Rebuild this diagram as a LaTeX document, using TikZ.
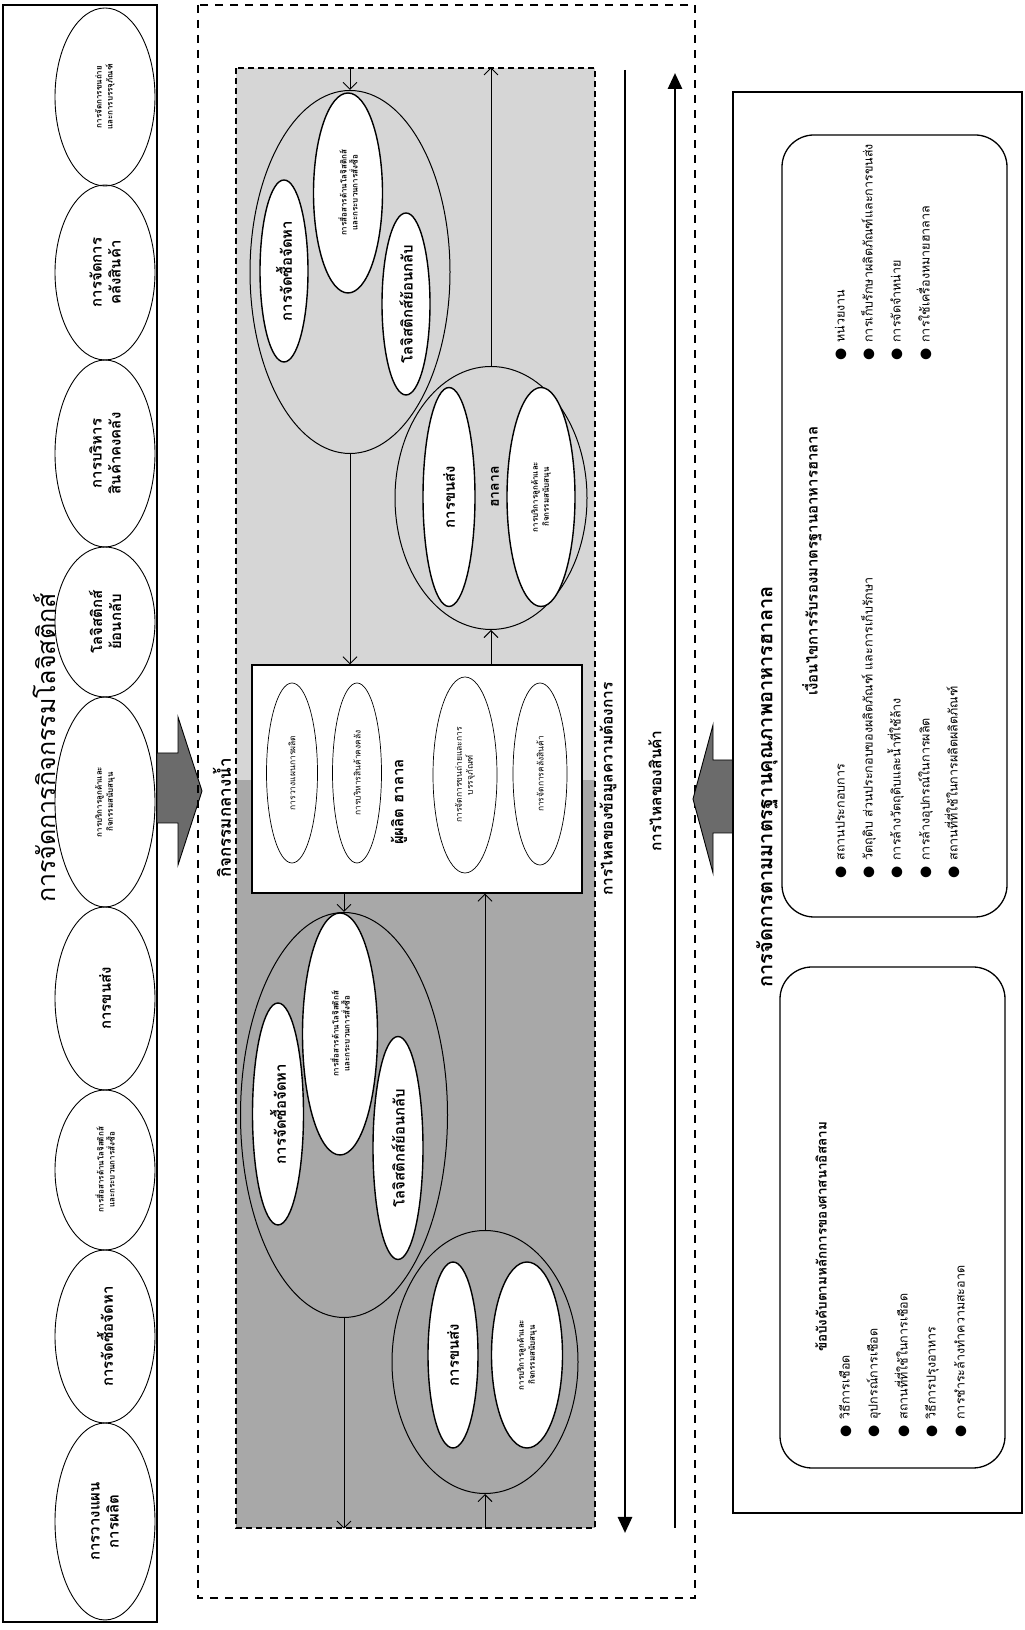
\documentclass[tikz,border=0pt]{standalone}
\usepackage{fontspec}
\setmainfont[Script=Thai]{Loma}
\newfontfamily\symfont{DejaVu Sans}
\usetikzlibrary{arrows.meta, positioning, shapes.geometric}
\definecolor{cShadeLight}{gray}{0.84}
\definecolor{cShadeDark}{gray}{0.66}
\definecolor{cArrow}{gray}{0.42}
\newcommand{\bul}{{\symfont\fontsize{14}{14}\selectfont ●}\hspace{6pt}}
\tikzset{
  %% frames
  panel/.style={rectangle, draw, line width=1.3pt, inner sep=0pt},
  dashframe/.style={rectangle, draw, line width=1.6pt, dash pattern=on 8pt off 7pt, inner sep=0pt},
  shadeframe/.style={rectangle, draw, line width=1.3pt, dash pattern=on 6pt off 4pt, inner sep=0pt},
  makerbox/.style={rectangle, draw, fill=white, line width=1.3pt, inner sep=0pt},
  reqbox/.style={rectangle, rounded corners=32pt, draw, line width=1.3pt, inner sep=0pt},
  sz/.style 2 args={minimum width=#1, minimum height=#2},
  %% ellipses
  actell/.style={ellipse, draw, line width=0.9pt, inner sep=-2pt, align=center,
                 font=\bfseries\fontsize{15}{19}\selectfont},
  groupell/.style={ellipse, draw, line width=1pt, inner sep=0pt},
  subell/.style={ellipse, draw, fill=white, line width=1.4pt, inner sep=-2pt, align=center,
                 font=\bfseries\fontsize{15}{18}\selectfont},
  prodell/.style={ellipse, draw, fill=white, line width=0.7pt, inner sep=0pt, align=center,
                  font=\fontsize{8.5}{11}\selectfont},
  smalltxt/.style={font=\bfseries\fontsize{8}{11}\selectfont},
  %% connectors
  flow/.style={line width=0.9pt, -{Straight Barb[length=7pt, width=14pt]}},
  longflow/.style={line width=2.8pt, -{Triangle[length=16pt, width=14pt]}},
  blockarrow/.style={draw, line width=0.9pt, fill=cArrow},
  %% texts
  flowlbl/.style={font=\bfseries\fontsize{15.5}{18}\selectfont},
  reqhead/.style={font=\bfseries\fontsize{13.5}{16}\selectfont},
  reqitem/.style={anchor=west, inner sep=0pt, text height=8pt, text depth=3pt,
                  font=\fontsize{12.5}{15}\selectfont},
}

\begin{document}
\begin{tikzpicture}
\begin{scope}[x=1pt, y=-1pt, rotate=90, transform shape]
\useasboundingbox (0,0) rectangle (1630,1025);

%% =============================================================
%%  TOP PANEL: logistics activities
%% =============================================================
\node[panel, sz={1617}{154}] (logi) at (816.5,80) {};
\node[font=\fontsize{25}{30}\selectfont] (logiT) at (882,44) {การจัดการกิจกรรมโลจิสติกส์};

\node[actell, sz={197}{100}] (t1) at (108.5,105) {การวางแผน\\การผลิต};
\node[actell, sz={173}{100}] (t2) at (293.5,105) {การจัดซื้อจัดหา};
\node[actell, sz={160}{100}, smalltxt] (t3) at (460,105) {การสื่อสารด้านโลจิสติกส์\\และกระบวนการสั่งซื้อ};
\node[actell, sz={183}{100}] (t4) at (631.5,105) {การขนส่ง};
\node[actell, sz={210}{100}, smalltxt] (t5) at (828,105) {การบริการลูกค้าและ\\กิจกรรมสนับสนุน};
\node[actell, sz={150}{100}] (t6) at (1008,105) {โลจิสติกส์\\ย้อนกลับ};
\node[actell, sz={187}{100}] (t7) at (1176.5,105) {การบริหาร\\สินค้าคงคลัง};
\node[actell, sz={175}{100}] (t8) at (1357.5,105) {การจัดการ\\คลังสินค้า};
\node[actell, sz={178}{100}, smalltxt] (t9) at (1533,105) {การจัดการขนถ่าย\\และการบรรจุภัณฑ์};

%% -- block arrow down into midstream --
\draw[blockarrow] (807,157) -- (807,178) -- (765,178) -- (839,202) -- (913,178)
  -- (877,178) -- (877,157) -- cycle;

%% =============================================================
%%  MIDDLE PANEL: midstream activities
%% =============================================================
\node[dashframe, sz={1593}{497}] (outer) at (828.5,446.5) {};
\node[font=\bfseries\fontsize{17}{20}\selectfont] (midT) at (812,222) {กิจกรรมกลางน้ำ};

%% -- shaded area --
\fill[cShadeLight] (850,236) rectangle (1562,595);
\fill[cShadeDark] (102,236) rectangle (850,595);
\node[shadeframe, sz={1460}{359}] (inner) at (832,415.5) {};

%% -- upstream groups (left) --
\node[groupell, sz={405}{207}] (bigL) at (515,344) {};
\node[subell, sz={222}{51}] (bigL1) at (516,278) {การจัดซื้อจัดหา};
\node[subell, sz={242}{75}, smalltxt] (bigL2) at (596,340) {การสื่อสารด้านโลจิสติกส์\\และกระบวนการสั่งซื้อ};
\node[subell, sz={223}{50}] (bigL3) at (482,398) {โลจิสติกส์ย้อนกลับ};

\node[groupell, sz={263}{186}] (smallL) at (268,485) {};
\node[subell, sz={186}{50}] (smallL1) at (275,453) {การขนส่ง};
\node[subell, sz={186}{71}, smalltxt] (smallL2) at (275,527) {การบริการลูกค้าและ\\กิจกรรมสนับสนุน};

%% -- producer box --
\node[makerbox, sz={228}{330}] (maker) at (851,417) {};
\node[prodell, sz={180}{51}] (m1) at (857,292) {การวางแผนการผลิต};
\node[prodell, sz={180}{49}] (m2) at (857,357) {การบริหารสินค้าคงคลัง};
\node[font=\bfseries\fontsize{15}{18}\selectfont] (makerT) at (828,399) {ผู้ผลิต ฮาลาล};
\node[prodell, sz={196}{64}] (m3) at (855,465) {การจัดการขนถ่ายและการ\\บรรจุภัณฑ์};
\node[prodell, sz={182}{54}] (m4) at (856,540) {การจัดการคลังสินค้า};

%% -- downstream groups (right) --
\node[groupell, sz={363}{200}] (bigR) at (1358,350) {};
\node[subell, sz={182}{48}] (bigR1) at (1359,284) {การจัดซื้อจัดหา};
\node[subell, sz={200}{69}, smalltxt] (bigR2) at (1437,348) {การสื่อสารด้านโลจิสติกส์\\และกระบวนการสั่งซื้อ};
\node[subell, sz={182}{48}] (bigR3) at (1326,406) {โลจิสติกส์ย้อนกลับ};

\node[groupell, sz={263}{192}] (market) at (1132,491) {};
\node[subell, sz={219}{52}] (market1) at (1133,449) {การขนส่ง};
\node[subell, sz={219}{68}, smalltxt] (market2) at (1133,541) {การบริการลูกค้าและ\\กิจกรรมสนับสนุน};
\node[font=\bfseries\fontsize{14}{16}\selectfont] (marketT) at (1143,495) {ฮาลาล};

%% -- order flow (to the left) --
\draw[flow] (inner.east |- bigR.east) -- (bigR.east);
\draw[flow] (bigR.west) -- (maker.east |- bigR.west);
\draw[flow] (maker.west |- bigL.east) -- (bigL.east);
\draw[flow] (bigL.west) -- (inner.west |- bigL.west);

%% -- goods flow (to the right) --
\draw[flow] (inner.west |- smallL.west) -- (smallL.west);
\draw[flow] (smallL.east) -- (maker.west |- smallL.east);
\draw[flow] (maker.east |- market.west) -- (market.west);
\draw[flow] (market.east) -- (inner.east |- market.east);

%% -- long flow arrows --
\coordinate (demandA) at (1560,625);
\coordinate (demandB) at (97,625);
\coordinate (goodsA) at (102,675);
\coordinate (goodsB) at (1557,675);
\draw[longflow] (demandA) -- (demandB);
\draw[longflow] (goodsA) -- (goodsB);
\node[flowlbl] (demandT) at (841,608) {การไหลของข้อมูลความต้องการ};
\node[flowlbl] (goodsT) at (839,655) {การไหลของสินค้า};

%% -- block arrow up from standards --
\draw[blockarrow] (797,733) -- (797,713) -- (757,713) -- (831,693) -- (905,713)
  -- (870,713) -- (870,733) -- cycle;

%% =============================================================
%%  BOTTOM PANEL: halal standards
%% =============================================================
\node[panel, sz={1421}{289}] (halal) at (827.5,877.5) {};
\node[font=\bfseries\fontsize{20}{24}\selectfont] (halalT) at (843,767) {การจัดการตามมาตรฐานคุณภาพอาหารฮาลาล};

%% -- religious rules --
\node[reqbox, sz={501}{225}] (req2) at (412.5,892.5) {};
\node[reqhead] (req2T) at (393,821) {ข้อบังคับตามหลักการของศาสนาอิสลาม};
\node[reqitem] (r2a) at (192,847) {\bul วิธีการเชือด};
\node[reqitem] (r2b) at (192,875) {\bul อุปกรณ์การเชือด};
\node[reqitem] (r2c) at (192,905) {\bul สถานที่ที่ใช้ในการเชือด};
\node[reqitem] (r2d) at (192,933) {\bul วิธีการปรุงอาหาร};
\node[reqitem] (r2e) at (192,962) {\bul การชำระล้างทำความสะอาด};

%% -- certification conditions --
\node[reqbox, sz={782}{225}] (req1) at (1104,894.5) {};
\node[reqhead, font=\bfseries\fontsize{15}{18}\selectfont] (req1T) at (1069,812) {เงื่อนไขการรับรองมาตรฐานอาหารฮาลาล};
\node[reqitem] (r1a) at (751,842) {\bul สถานประกอบการ};
\node[reqitem] (r1b) at (751,870) {\bul วัตถุดิบ ส่วนประกอบของผลิตภัณฑ์ และการเก็บรักษา};
\node[reqitem] (r1c) at (751,898) {\bul การล้างวัตถุดิบและน้ำที่ใช้ล้าง};
\node[reqitem] (r1d) at (751,927) {\bul การล้างอุปกรณ์ในการผลิต};
\node[reqitem] (r1e) at (751,955) {\bul สถานที่ที่ใช้ในการผลิตผลิตภัณฑ์};
\node[reqitem] (r1f) at (1269,842) {\bul หน่วยงาน};
\node[reqitem] (r1g) at (1269,870) {\bul การเก็บรักษาผลิตภัณฑ์และการขนส่ง};
\node[reqitem] (r1h) at (1269,898) {\bul การจัดจำหน่าย};
\node[reqitem] (r1i) at (1269,927) {\bul การใช้เครื่องหมายฮาลาล};

\end{scope}
\end{tikzpicture}
\end{document}
